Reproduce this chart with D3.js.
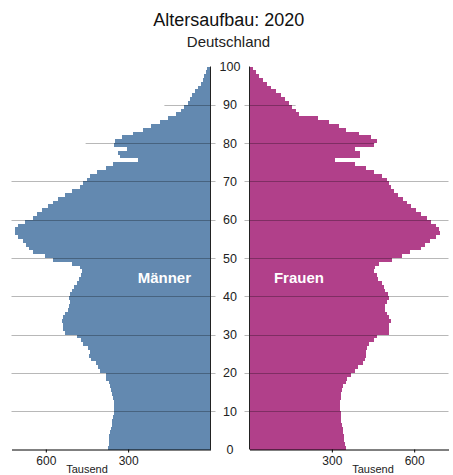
<!DOCTYPE html>
<html>
<head>
<meta charset="utf-8">
<script src="https://cdn.jsdelivr.net/npm/d3@7"></script>
<style>
  html, body { margin: 0; padding: 0; background: #fff; }
  svg { display: block; font-family: "Liberation Sans", Arial, sans-serif; }
</style>
</head>
<body>
<svg id="chart" width="453" height="475"></svg>
<script>
// ---- Data (thousands), ages 0..99 ----
const title = "Altersaufbau: 2020";
const subtitle = "Deutschland";
const ages = d3.range(0, 100);
const men = [
  372,371,370,368,365,363,360,358,354,352,
  350,351,353,356,358,362,365,371,379,382,
  403,411,417,436,442,439,448,463,473,488,
  530,539,536,542,536,530,520,514,512,516,
  512,506,497,488,478,472,469,476,506,573,
  603,646,660,672,684,700,712,712,700,676,
  648,633,615,591,573,555,530,506,476,464,
  451,439,415,381,354,263,330,336,306,352,
  348,324,282,245,215,184,154,124,106,96,
  81,75,69,57,45,35,29,23,17,12
];
const women = [
  350,348,346,344,341,339,338,335,334,332,
  329,328,330,334,335,338,341,350,356,368,
  384,396,413,420,425,423,429,437,453,465,
  508,510,508,514,508,502,493,495,502,508,
  505,495,489,483,469,463,453,457,471,520,
  556,583,623,641,659,680,693,690,678,663,
  647,623,607,590,574,559,542,526,516,507,
  501,483,453,423,386,311,402,402,384,453,
  465,444,398,350,325,289,250,182,168,155,
  143,131,113,95,77,64,49,36,24,12
];
const ageTicks = [0,10,20,30,40,50,60,70,80,90,100];
const gridAges = [10,20,30,40,50,60,70,80,90];
const gridReach = {80: 455, 90: 168};   // thousands; others span full width
const valueTicks = [300, 600];
const unitLabel = "Tausend";
const labelMen = "Männer", labelWomen = "Frauen";

// ---- Layout ----
const svg = d3.select("#chart");
const maxV = 725;
const xL = d3.scaleLinear().domain([0, maxV]).range([210.5, 11.5]);
const xR = d3.scaleLinear().domain([0, maxV]).range([249.5, 448.5]);
const y  = d3.scaleLinear().domain([0, 100]).range([449.5, 66.5]);
const blue = "#6389b0", magenta = "#b1408a";

// Title
svg.append("text").attr("x", 228.8).attr("y", 26).attr("text-anchor", "middle")
  .attr("font-size", 18).attr("fill", "#111").text(title);
svg.append("text").attr("x", 228.5).attr("y", 46.5).attr("text-anchor", "middle")
  .attr("font-size", 15).attr("fill", "#222").text(subtitle);

// Bars
svg.append("g").attr("shape-rendering", "crispEdges").selectAll("rect").data(ages).join("rect")
  .attr("x", a => xL(men[a])).attr("width", a => xL(0) - xL(men[a]))
  .attr("y", a => y(a + 1)).attr("height", a => y(a) - y(a + 1))
  .attr("fill", blue);
svg.append("g").attr("shape-rendering", "crispEdges").selectAll("rect").data(ages).join("rect")
  .attr("x", xR(0)).attr("width", a => xR(women[a]) - xR(0))
  .attr("y", a => y(a + 1)).attr("height", a => y(a) - y(a + 1))
  .attr("fill", magenta);

// Gridlines (over bars)
const grid = svg.append("g").attr("stroke", "#000").attr("stroke-opacity", 0.28).attr("stroke-width", 1);
gridAges.forEach(a => {
  const r = gridReach[a] !== undefined ? gridReach[a] : maxV;
  const yy = Math.round(y(a)) + 0.5;
  grid.append("line").attr("x1", xL(r)).attr("x2", xL(0) + 5).attr("y1", yy).attr("y2", yy);
  grid.append("line").attr("x1", xR(0) - 5).attr("x2", xR(r)).attr("y1", yy).attr("y2", yy);
});

// Vertical axis lines
svg.append("line").attr("x1", xL(0)).attr("x2", xL(0)).attr("y1", y(100)).attr("y2", y(0))
  .attr("stroke", "#222");
svg.append("line").attr("x1", xR(0)).attr("x2", xR(0)).attr("y1", y(100)).attr("y2", y(0))
  .attr("stroke", "#222");

// Bottom axes
const fmt = d3.format("d");
[xL, xR].forEach(sc => {
  const g = svg.append("g").attr("transform", `translate(0,${y(0)})`)
    .call(d3.axisBottom(sc).tickValues(valueTicks).tickSize(3).tickSizeOuter(0).tickPadding(4).tickFormat(fmt));
  g.select(".domain").attr("stroke", "#000");
  g.selectAll(".tick line").attr("stroke", "#000");
  g.selectAll("text").attr("font-size", 12).attr("font-family", "Liberation Sans, Arial, sans-serif").attr("fill", "#222");
});
svg.append("text").attr("x", xL(450)).attr("y", 472.5).attr("text-anchor", "middle")
  .attr("font-size", 11).attr("fill", "#222").text(unitLabel);
svg.append("text").attr("x", xR(450)).attr("y", 472.5).attr("text-anchor", "middle")
  .attr("font-size", 11).attr("fill", "#222").text(unitLabel);

// Age labels in the middle
svg.append("g").selectAll("text").data(ageTicks).join("text")
  .attr("x", (xL(0) + xR(0)) / 2).attr("y", d => y(d)).attr("dy", "0.36em")
  .attr("text-anchor", "middle").attr("font-size", 12.5).attr("fill", "#222")
  .text(d => d);

// Sex labels
svg.append("text").attr("x", xL(168)).attr("y", y(45) + 5.5).attr("text-anchor", "middle")
  .attr("font-size", 15).attr("font-weight", "bold").attr("fill", "#fff").text(labelMen);
svg.append("text").attr("x", xR(180)).attr("y", y(45) + 5.5).attr("text-anchor", "middle")
  .attr("font-size", 15).attr("font-weight", "bold").attr("fill", "#fff").text(labelWomen);
</script>
</body>
</html>
